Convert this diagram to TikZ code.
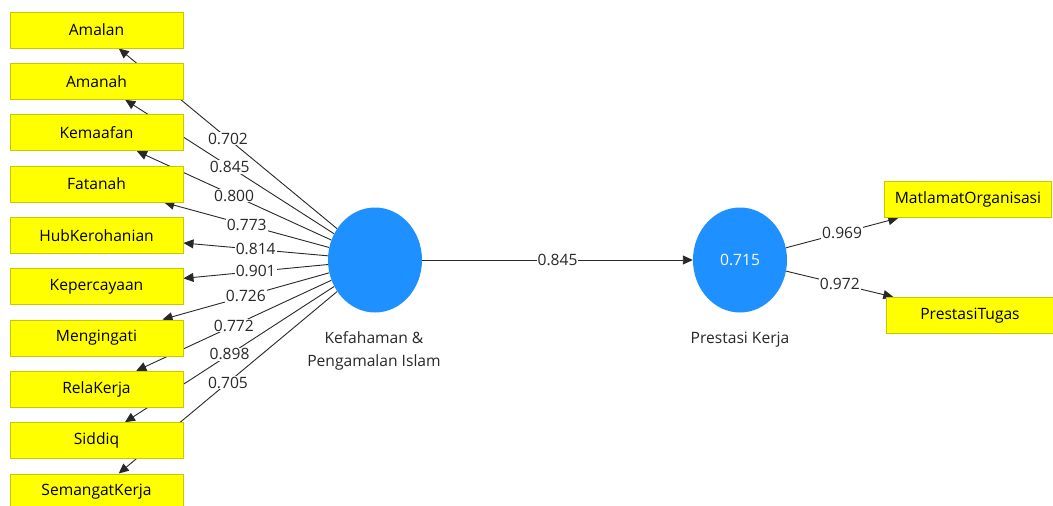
\documentclass[tikz,border=0pt]{standalone}
\usepackage{fontspec}
\setmainfont{Open Sans}
\usetikzlibrary{shapes.geometric,arrows.meta}
\pgfdeclarelayer{bg}
\pgfdeclarelayer{paper}
\pgfsetlayers{paper,bg,main}
\definecolor{boxfill}{RGB}{255,255,0}
\definecolor{boxline}{RGB}{200,200,0}
\definecolor{lvfill}{RGB}{30,144,255}
\definecolor{linecol}{RGB}{40,40,40}
\definecolor{txtcol}{RGB}{40,40,40}
\tikzset{
  ind/.style={draw=boxline, line width=1pt, fill=boxfill, minimum width=173pt, minimum height=36pt, inner sep=0pt, font=\fontsize{15.6}{18}\selectfont, text=black},
  indr/.style={ind, minimum width=167pt},
  lv/.style={ellipse, fill=lvfill, minimum width=94pt, minimum height=105pt, inner sep=0pt, font=\fontsize{15.6}{18}\selectfont, text=white},
  lvlabel/.style={font=\fontsize{15.6}{23}\selectfont, text=txtcol, align=center},
  arr/.style={draw=linecol, line width=0.9pt, -{Triangle[length=10pt,width=9pt]}},
  lbl/.style={fill=white, inner sep=1pt, font=\fontsize{15.6}{18}\selectfont, text=txtcol, midway}
}
\begin{document}
\begin{tikzpicture}[x=1pt,y=-1pt]
\useasboundingbox (0,0) rectangle (1053,506);
\begin{pgfonlayer}{paper}
\fill[white] (0,0) rectangle (1053,506);
\end{pgfonlayer}
% indicator boxes
\node[ind] (amalan) at (96.5,30) {Amalan};
\node[ind] (amanah) at (96.5,81.3) {Amanah};
\node[ind] (kemaafan) at (96.5,132.7) {Kemaafan};
\node[ind] (fatanah) at (96.5,184) {Fatanah};
\node[ind] (hub) at (96.5,235.3) {HubKerohanian};
\node[ind] (keper) at (96.5,286.7) {Kepercayaan};
\node[ind] (meng) at (96.5,338) {Mengingati};
\node[ind] (rela) at (96.5,389.3) {RelaKerja};
\node[ind] (siddiq) at (96.5,440.7) {Siddiq};
\node[ind] (semangat) at (96.5,492) {SemangatKerja};
\node[indr] (matlamat) at (968,199.5) {MatlamatOrganisasi};
\node[indr] (tugas) at (970,315.5) {PrestasiTugas};
% latent variables
\node[lv] (kef) at (375,260) {};
\node[lv] (pk) at (740,260) {0.715};
\node[lvlabel] (keflabel) at (374,351) {Kefahaman \&\\Pengamalan Islam};
\node[lvlabel] (pklabel) at (740,340) {Prestasi Kerja};
% connectors
\begin{pgfonlayer}{bg}
\draw[arr] (kef) -- node[lbl]{0.702} (amalan);
\draw[arr] (kef) -- node[lbl]{0.845} (amanah);
\draw[arr] (kef) -- node[lbl]{0.800} (kemaafan);
\draw[arr] (kef) -- node[lbl]{0.773} (fatanah);
\draw[arr] (kef) -- node[lbl]{0.814} (hub);
\draw[arr] (kef) -- node[lbl]{0.901} (keper);
\draw[arr] (kef) -- node[lbl]{0.726} (meng);
\draw[arr] (kef) -- node[lbl]{0.772} (rela);
\draw[arr] (kef) -- node[lbl]{0.898} (siddiq);
\draw[arr] (kef) -- node[lbl]{0.705} (semangat);
\draw[arr] (kef) -- node[lbl]{0.845} (pk);
\draw[arr] (pk) -- node[lbl]{0.969} (matlamat);
\draw[arr] (pk) -- node[lbl]{0.972} (tugas);
\end{pgfonlayer}
\end{tikzpicture}
\end{document}
